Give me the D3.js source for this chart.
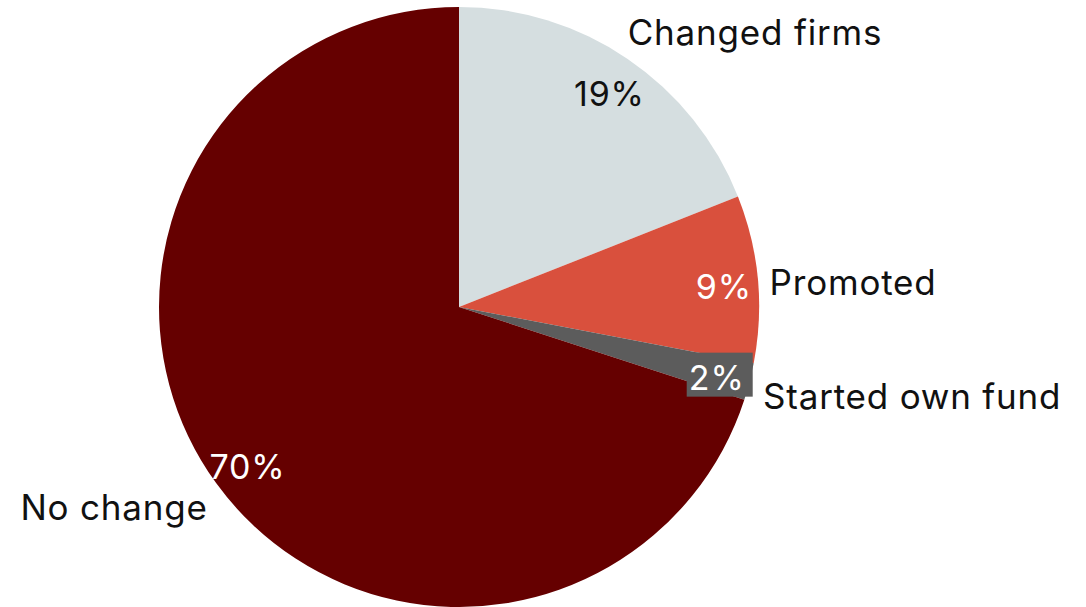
<!DOCTYPE html>
<html>
<head>
<meta charset="utf-8">
<script src="https://cdn.jsdelivr.net/npm/d3@7"></script>
<style>
  body { margin: 0; background: #fff; }
  text { font-family: Inter, "Noto Sans", sans-serif; letter-spacing: 0.8px; }
</style>
</head>
<body>
<svg width="1086" height="607"></svg>
<script>
    const categories = ['Changed firms', 'Promoted', 'Started own fund', 'No change'];
    const values = [19, 9, 2, 70];
    const pctLabels = ['19%', '9%', '2%', '70%'];
    const colors = ['#d5dee0', '#d9503d', '#5c5c5c', '#650000'];
    const pctColors = ['#111', '#fff', '#fff', '#fff'];

    const svg = d3.select('svg');
    const cx = 459, cy = 307, radius = 300;

    const g = svg.append('g')
        .attr('transform', `translate(${cx},${cy})`);

    const pie = d3.pie().sort(null).value(d => d.value);
    const data = pie(categories.map((c, i) => ({ name: c, value: values[i], i })));

    const arc = d3.arc().innerRadius(0).outerRadius(radius);
    const pctArc = d3.arc().innerRadius(264).outerRadius(264);
    const nameArc = d3.arc().innerRadius(318).outerRadius(318);

    g.selectAll('path.slice').data(data)
        .enter().append('path')
        .attr('class', 'slice')
        .attr('d', arc)
        .attr('fill', d => colors[d.data.i]);

    // percentage labels
    const pct = g.selectAll('g.pct').data(data)
        .enter().append('g')
        .attr('class', 'pct')
        .attr('transform', d => {
            const [x, y] = pctArc.centroid(d);
            return `translate(${x + 2},${y + 5})`;
        });

    // small slice gets a box behind the number
    pct.filter(d => d.data.value < 5)
        .append('rect')
        .attr('x', -30).attr('y', -25)
        .attr('width', 66).attr('height', 44)
        .attr('fill', d => colors[d.data.i]);

    pct.append('text')
        .attr('text-anchor', 'middle')
        .attr('dy', '0.35em')
        .attr('font-size', 34)
        .attr('fill', d => pctColors[d.data.i])
        .text(d => pctLabels[d.data.i]);

    // category names outside
    const nudges = [[-10, -11], [-6, 6], [-4, 11], [6, 14]];
    g.selectAll('text.name').data(data)
        .enter().append('text')
        .attr('class', 'name')
        .attr('transform', d => {
            const [x, y] = nameArc.centroid(d);
            const [nx, ny] = nudges[d.data.i];
            return `translate(${x + nx},${y + ny})`;
        })
        .attr('text-anchor', d => (d.startAngle + d.endAngle) / 2 > Math.PI ? 'end' : 'start')
        .attr('dy', '0.35em')
        .attr('font-size', 35)
        .attr('fill', '#111')
        .text(d => d.data.name);
</script>
</body>
</html>
